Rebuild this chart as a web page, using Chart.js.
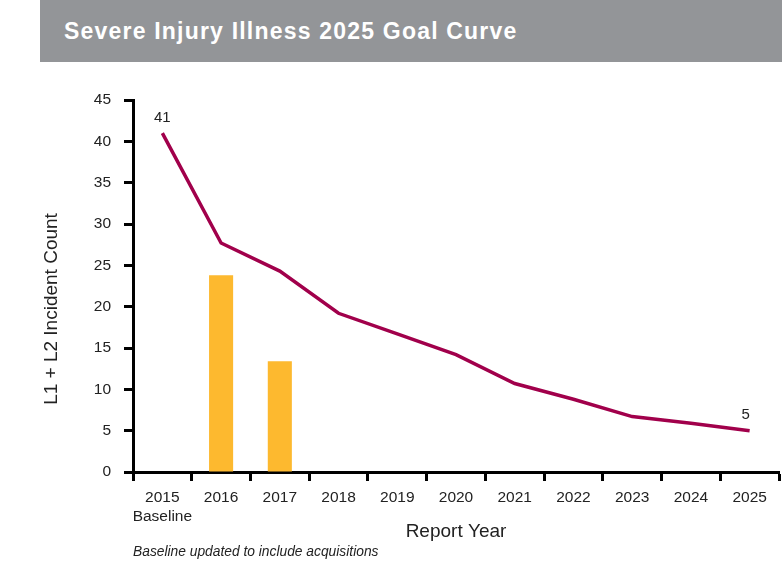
<!DOCTYPE html>
<html>
<head>
<meta charset="utf-8">
<script src="https://cdn.jsdelivr.net/npm/chart.js@4.4.1/dist/chart.umd.min.js"></script>
<style>
  body { margin: 0; background: #fff; }
  #wrap { position: relative; width: 782px; height: 564px; overflow: hidden; }
  #myChart { position: absolute; left: 0; top: 0; }
  .header {
    position: absolute; left: 40px; top: 0; width: 742px; height: 62px;
    background: #939598; color: #fff;
    font-family: "Liberation Sans", Arial, sans-serif; font-weight: 700; font-size: 23px;
    letter-spacing: 1.2px;
    line-height: 62px; padding-left: 24px; box-sizing: border-box;
  }
  .note {
    position: absolute; left: 133px; top: 544px;
    font-family: "Liberation Sans", Arial, sans-serif; font-style: italic;
    font-size: 13.8px; color: #222;
  }
</style>
</head>
<body>
<div id="wrap">
  <canvas id="myChart" width="782" height="564"></canvas>
  <div class="header">Severe Injury Illness 2025 Goal Curve</div>
  <div class="note">Baseline updated to include acquisitions</div>
</div>
<script>
// report years (2015 is the baseline)
const years = [['2015', 'Baseline'], '2016', '2017', '2018', '2019', '2020', '2021', '2022', '2023', '2024', '2025'];
// goal curve
const goal = [41, 27.7, 24.3, 19.2, 16.7, 14.2, 10.7, 8.8, 6.7, 5.9, 5];
// actual counts
const actual = [null, 23.8, 13.4, null, null, null, null, null, null, null, null];
const yTicks = [0, 45, 5]; // min, max, step
const yTitle = 'L1 + L2 Incident Count';

const txt = '#222';
const fam = '"Liberation Sans", Arial, sans-serif';

// numbers over first and last point of the goal line, and the y title
const extras = {
  id: 'extras',
  afterDatasetsDraw(chart) {
    const meta = chart.getDatasetMeta(0);
    const ctx = chart.ctx;
    ctx.save();
    ctx.fillStyle = txt;
    ctx.font = '15px ' + fam;
    ctx.textAlign = 'center';
    ctx.textBaseline = 'bottom';
    [0, goal.length - 1].forEach(function(i) {
      let p = meta.data[i];
      ctx.fillText(String(goal[i]), p.x - (i ? 4 : 0), p.y - 8);
    });
    // y title, sits a bit below the middle of the axis
    let a = chart.chartArea;
    ctx.translate(52, (a.top + a.bottom) / 2 + 23);
    ctx.rotate(-Math.PI / 2);
    ctx.font = '19px ' + fam;
    ctx.textBaseline = 'middle';
    ctx.fillText(yTitle, 0, 0);
    ctx.restore();
  }
};

const config = {
  type: 'bar',
  data: {
    labels: years,
    datasets: [{
      type: 'line',
      data: goal,
      borderColor: '#A1004B',
      borderWidth: 3.5,
      pointRadius: 0,
      tension: 0,
      order: 0
    },
    {
      type: 'bar',
      data: actual,
      backgroundColor: '#FDB92F',
      categoryPercentage: 1,
      barPercentage: 0.41,
      order: 1
    }]
  },
  plugins: [extras],
  options: {
    responsive: false,
    animation: false,
    devicePixelRatio: 1,
    layout: { padding: { left: 0, top: 100, right: 3, bottom: 0 } },
    plugins: { legend: { display: false }, tooltip: { enabled: false } },
    scales: {
      x: {
        offset: true,
        afterFit: function(s) { s.height = 92; },
        grid: { offset: true, drawOnChartArea: false, drawTicks: true, tickLength: 9, tickWidth: 3, color: '#000' },
        border: { color: '#000', width: 3 },
        ticks: { color: txt, font: { family: fam, size: 15.5, lineHeight: 1.25 }, padding: 7, maxRotation: 0, autoSkip: false },
        title: { display: true, text: 'Report Year', color: txt, font: { family: fam, size: 19, lineHeight: 1.2 }, padding: { top: 0, bottom: 21 } }
      },
      y: {
        min: yTicks[0],
        max: yTicks[1],
        afterFit: function(s) { s.width = 133; },
        grid: { drawOnChartArea: false, drawTicks: true, tickLength: 9, tickWidth: 3, color: '#000' },
        border: { color: '#000', width: 3 },
        ticks: { stepSize: yTicks[2], color: txt, font: { family: fam, size: 15.5 }, padding: 13 },
        title: { display: false }
      }
    }
  }
};

const myChart = new Chart(document.getElementById('myChart'), config);
</script>
</body>
</html>
